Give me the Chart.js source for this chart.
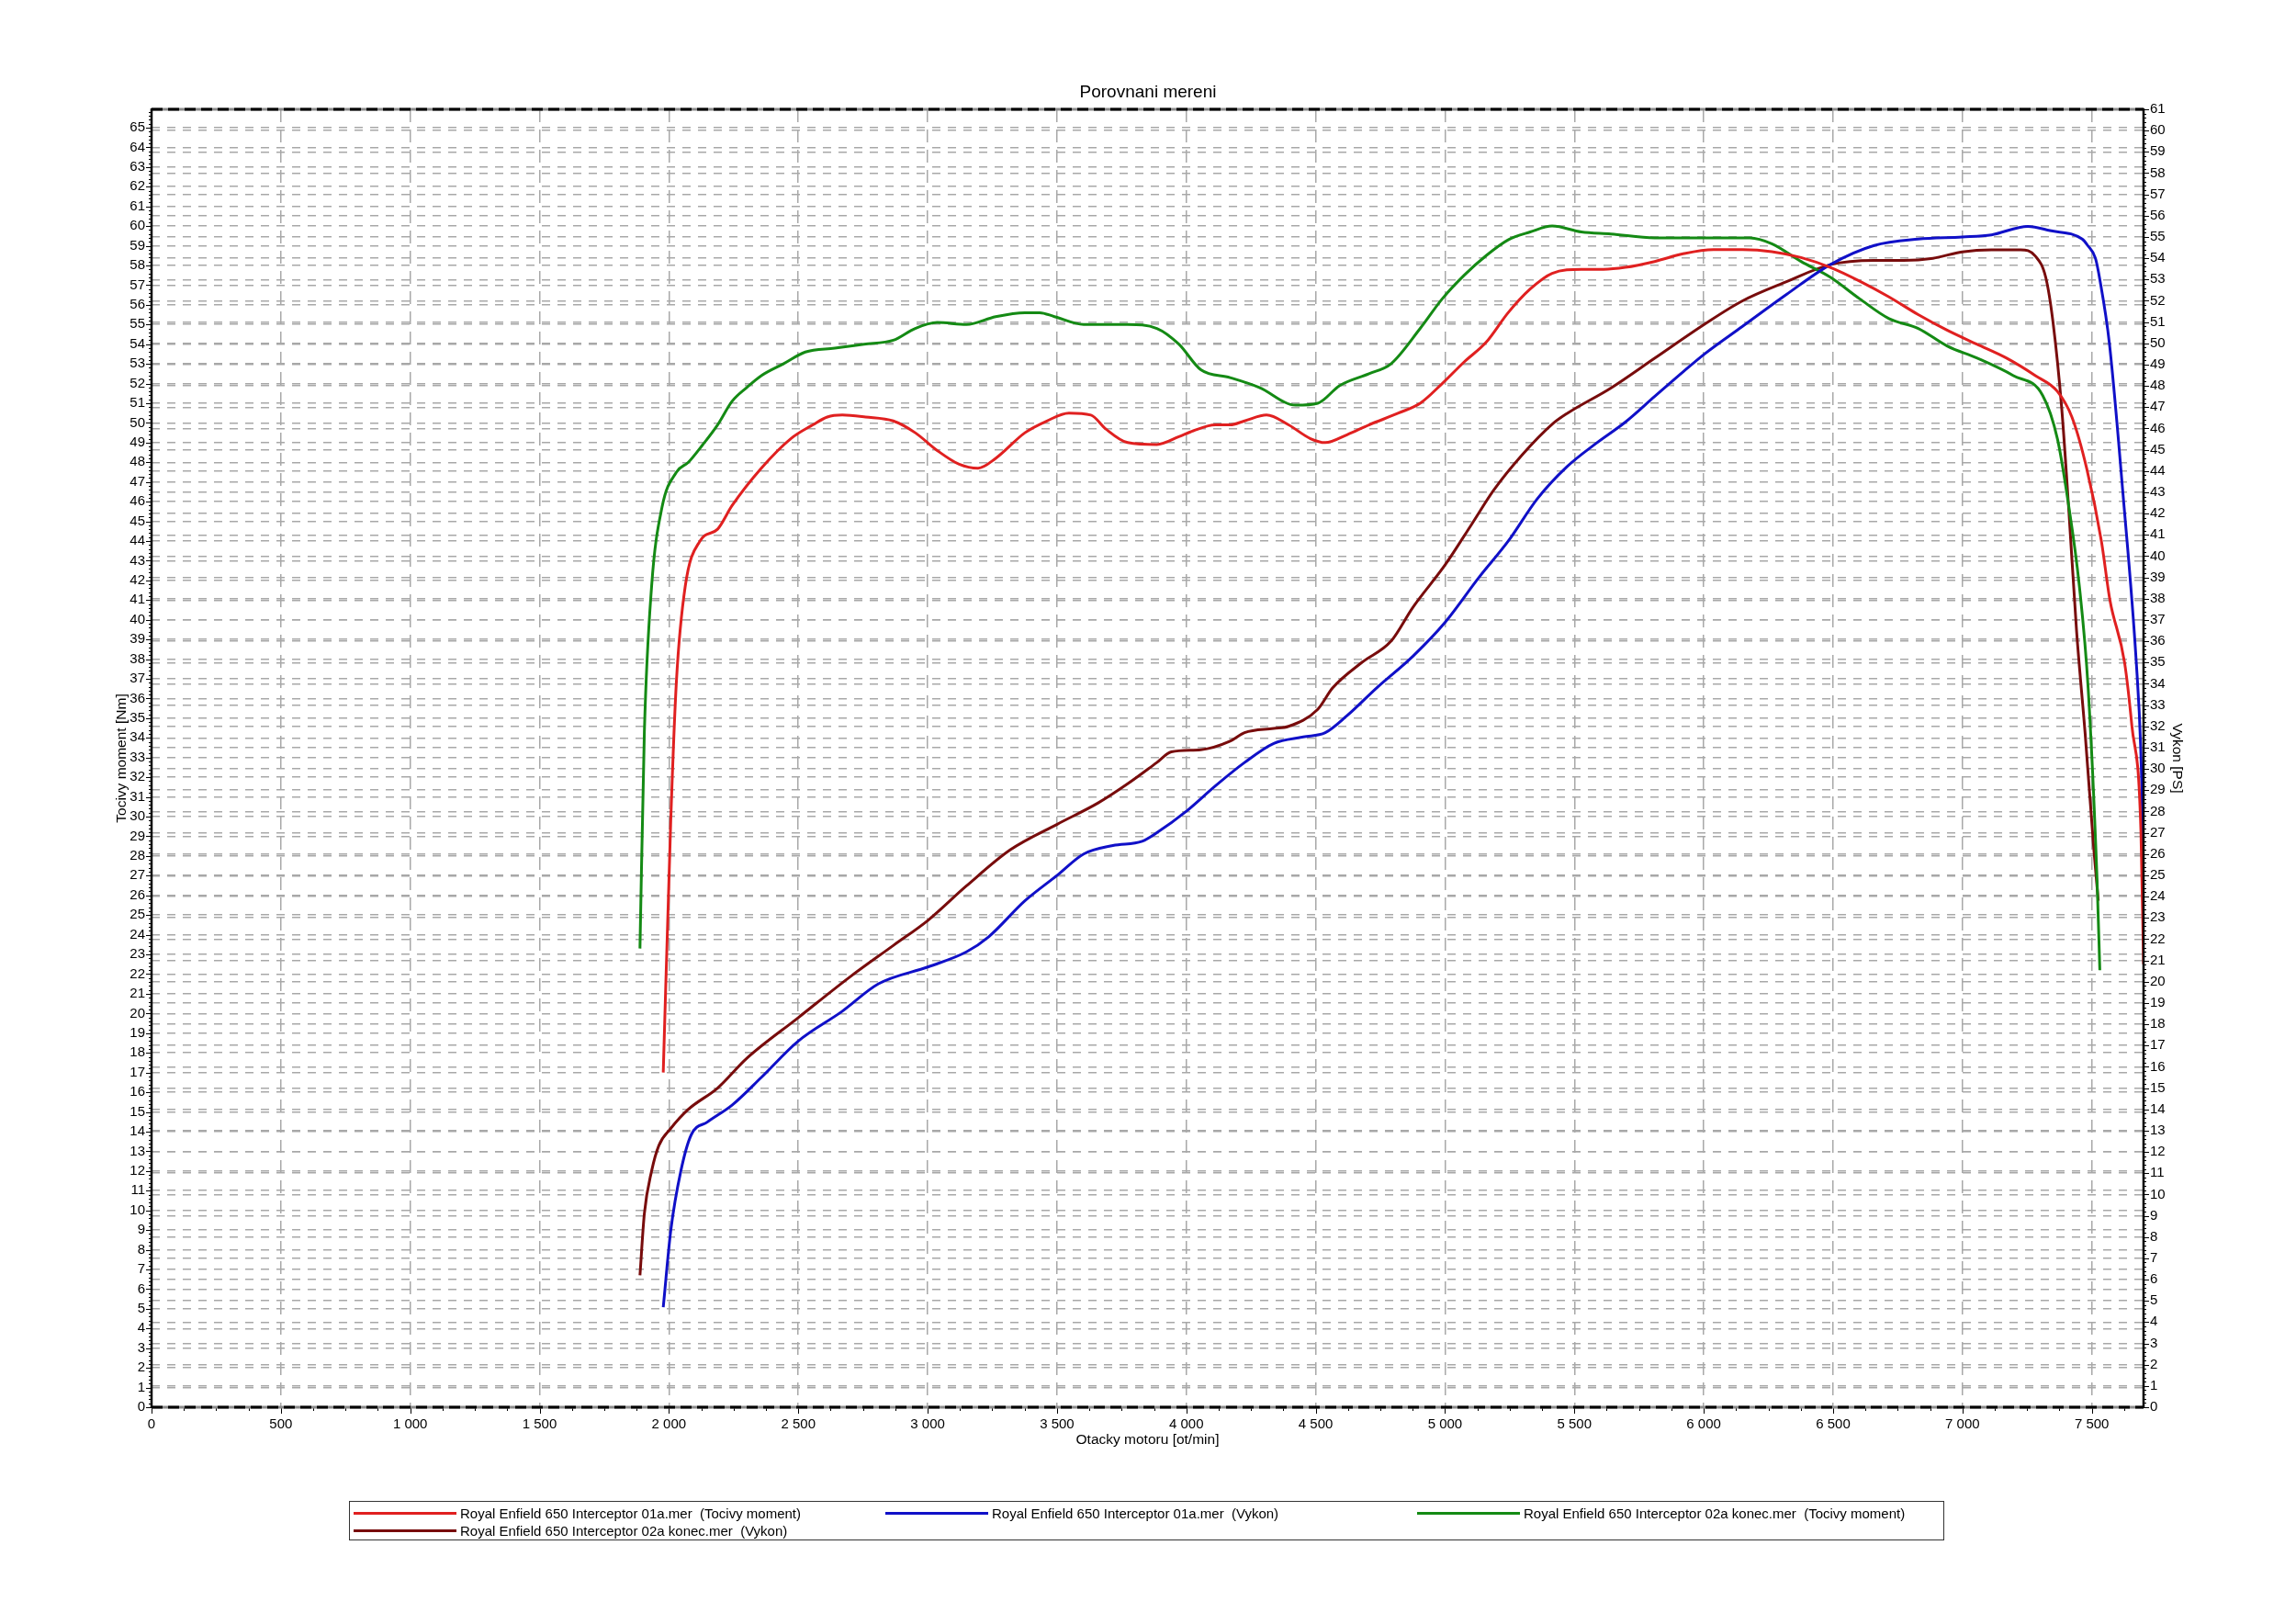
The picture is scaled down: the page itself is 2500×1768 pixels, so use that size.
<!DOCTYPE html>
<html>
<head>
<meta charset="utf-8">
<title>Porovnani mereni</title>
<script src="https://cdn.jsdelivr.net/npm/chart.js@4"></script>
<style>
  body { margin: 0; background: #fff; }
  #wrap { position: relative; width: 2500px; height: 1768px; }
  #legend {
    position: absolute; left: 380px; top: 1634px; width: 1737px; height: 43px;
    border: 1.5px solid #333; box-sizing: border-box; padding: 3px 0 0 4px;
    font: 15px "Liberation Sans", Arial, sans-serif; color: #000;
    display: grid; grid-template-columns: 579px 579px 570px; grid-auto-rows: 19px;
  }
  .item { display: flex; align-items: center; white-space: pre; }
  .item .line { width: 112px; height: 3px; margin-right: 4px; }
</style>
</head>
<body>
<div id="wrap">
  <canvas id="myChart"></canvas>
  <div id="legend"></div>
</div>
<script>
// axis ranges / labels
const chartTitle = "Porovnani mereni";
const xTitle = "Otacky motoru [ot/min]";
const yLeftTitle = "Tocivy moment [Nm]";
const yRightTitle = "Vykon [PS]";
const xMax = 7700, xStep = 500;
const yLeftMax = 65.93, yRightMax = 61;

// Royal Enfield 650 Interceptor 01a.mer (Tocivy moment) [rpm, Nm]
const rpmTorque01 = [1978, 2007, 2029, 2063, 2120, 2188, 2244, 2357, 2471, 2556, 2612, 2670, 2760, 2867, 2952, 3037, 3122, 3195, 3263, 3376, 3461, 3546, 3631, 3688, 3773, 3886, 3971, 4027, 4112, 4169, 4225, 4310, 4395, 4480, 4537, 4621, 4706, 4820, 4904, 4989, 5074, 5159, 5244, 5329, 5414, 5527, 5612, 5697, 5810, 5924, 6037, 6150, 6263, 6376, 6489, 6603, 6716, 6829, 6942, 7055, 7169, 7282, 7367, 7423, 7480, 7537, 7570, 7627, 7655, 7690, 7700];
const torque01 = [17.0, 29.8, 36.9, 41.7, 44.0, 44.6, 45.8, 47.7, 49.2, 49.9, 50.3, 50.4, 50.3, 50.1, 49.5, 48.6, 47.9, 47.7, 48.2, 49.5, 50.1, 50.5, 50.4, 49.7, 49.0, 48.9, 49.3, 49.6, 49.9, 49.9, 50.1, 50.4, 49.9, 49.2, 49.0, 49.4, 49.9, 50.5, 51.0, 52.0, 53.1, 54.1, 55.6, 56.8, 57.6, 57.8, 57.8, 57.9, 58.2, 58.6, 58.8, 58.8, 58.7, 58.4, 57.9, 57.2, 56.4, 55.5, 54.7, 54.0, 53.3, 52.4, 51.6, 50.3, 47.7, 44.0, 41.0, 37.8, 34.6, 29.2, 22.5];

// Royal Enfield 650 Interceptor 01a.mer (Vykon) [rpm, PS]
const rpmPower01 = [1978, 2007, 2046, 2086, 2148, 2244, 2357, 2499, 2669, 2810, 3003, 3150, 3235, 3376, 3501, 3603, 3716, 3829, 3886, 3999, 4112, 4225, 4338, 4452, 4537, 4621, 4735, 4876, 5001, 5131, 5244, 5357, 5471, 5584, 5697, 5810, 5924, 6003, 6150, 6320, 6489, 6659, 6829, 6999, 7112, 7253, 7338, 7463, 7484, 7514, 7531, 7568, 7620, 7672, 7689, 7697, 7700];
const power01 = [4.7, 8.3, 11.1, 12.8, 13.4, 14.2, 15.5, 17.2, 18.6, 19.9, 20.7, 21.4, 22.1, 23.8, 25.0, 26.0, 26.4, 26.6, 27.0, 28.0, 29.2, 30.3, 31.2, 31.5, 31.7, 32.5, 33.8, 35.3, 36.9, 39.0, 40.7, 42.7, 44.2, 45.3, 46.3, 47.5, 48.7, 49.5, 50.8, 52.3, 53.7, 54.6, 54.9, 55.0, 55.1, 55.5, 55.3, 54.9, 54.6, 54.0, 53.0, 50.0, 43.0, 35.0, 31.0, 27.0, 24.0];

// Royal Enfield 650 Interceptor 02a konec.mer (Tocivy moment) [rpm, Nm]
const rpmTorque02 = [1888, 1905, 1933, 1973, 2029, 2075, 2131, 2188, 2244, 2301, 2357, 2442, 2527, 2641, 2754, 2867, 2952, 3037, 3150, 3263, 3376, 3433, 3490, 3603, 3773, 3886, 3971, 4056, 4169, 4282, 4423, 4508, 4593, 4706, 4791, 4904, 4989, 5074, 5159, 5244, 5329, 5414, 5527, 5641, 5810, 5924, 6037, 6178, 6263, 6376, 6489, 6603, 6716, 6829, 6942, 7055, 7197, 7310, 7367, 7406, 7452, 7486, 7520, 7531];
const torque02 = [23.3, 34.3, 41.7, 45.7, 47.5, 48.0, 48.9, 49.9, 51.1, 51.8, 52.4, 53.0, 53.6, 53.8, 54.0, 54.2, 54.8, 55.1, 55.0, 55.4, 55.6, 55.6, 55.4, 55.0, 55.0, 54.8, 54.0, 52.7, 52.3, 51.8, 50.9, 51.0, 51.9, 52.5, 53.0, 54.8, 56.3, 57.5, 58.5, 59.3, 59.7, 60.0, 59.7, 59.6, 59.4, 59.4, 59.4, 59.4, 59.1, 58.2, 57.4, 56.3, 55.3, 54.8, 53.9, 53.3, 52.4, 51.4, 49.2, 46.2, 41.7, 36.5, 26.9, 22.2];

// Royal Enfield 650 Interceptor 02a konec.mer (Vykon) [rpm, PS]
const rpmPower02 = [1888, 1905, 1933, 1961, 2007, 2075, 2188, 2301, 2499, 2697, 2867, 3003, 3150, 3320, 3501, 3659, 3773, 3886, 3942, 4056, 4169, 4225, 4338, 4395, 4508, 4565, 4678, 4791, 4876, 5001, 5103, 5188, 5301, 5414, 5471, 5641, 5810, 6003, 6150, 6320, 6489, 6659, 6772, 6886, 6999, 7112, 7225, 7282, 7322, 7350, 7384, 7412, 7441, 7474, 7508, 7525];
const power02 = [6.2, 9.1, 11.1, 12.3, 13.1, 14.0, 15.0, 16.4, 18.3, 20.2, 21.7, 22.9, 24.5, 26.2, 27.4, 28.4, 29.3, 30.3, 30.8, 30.9, 31.3, 31.7, 31.9, 32.0, 32.8, 33.8, 35.0, 36.0, 37.6, 39.6, 41.5, 43.1, 44.8, 46.2, 46.7, 47.9, 49.3, 50.9, 52.0, 52.9, 53.7, 53.9, 53.9, 54.0, 54.3, 54.4, 54.4, 54.1, 53.1, 51.0, 46.9, 42.0, 36.5, 31.7, 26.2, 23.8];

function pts(xs, ys) {
  return xs.map((x, i) => ({ x: x, y: ys[i] }));
}

function spaced(v) {
  return String(v).replace(/\B(?=(\d{3})+(?!\d))/g, " ");
}

// fixed tick list: 0, step, 2*step ... up to max
function fixedTicks(step, max) {
  return (scale) => {
    const t = [];
    for (let v = 0; v <= max + 1e-6; v += step) t.push({ value: v });
    scale.ticks = t;
  };
}

Chart.defaults.font.family = '"Liberation Sans", Arial, sans-serif';
Chart.defaults.color = "#000";

// frame of the plot and small tick marks on the axes
const frameAndTicks = {
  id: "frameAndTicks",
  afterDatasetsDraw(chart) {
    const { ctx, chartArea: a, scales } = chart;
    ctx.save();
    ctx.strokeStyle = "#000";
    ctx.lineWidth = 1;
    ctx.beginPath();
    for (let i = 0; i * 0.2 <= yLeftMax; i++) {
      const y = Math.round(scales.y.getPixelForValue(i * 0.2)) + 0.5;
      const len = i % 5 === 0 ? 6 : 3;
      ctx.moveTo(a.left - len, y);
      ctx.lineTo(a.left, y);
    }
    for (let i = 0; i * 0.2 <= yRightMax + 0.001; i++) {
      const y = Math.round(scales.y1.getPixelForValue(i * 0.2)) + 0.5;
      const len = i % 5 === 0 ? 6 : 3;
      ctx.moveTo(a.right, y);
      ctx.lineTo(a.right + len, y);
    }
    for (let i = 0; i * 125 <= xMax; i++) {
      const x = Math.round(scales.x.getPixelForValue(i * 125)) + 0.5;
      const len = i % 4 === 0 ? 7 : 4;
      ctx.moveTo(x, a.bottom);
      ctx.lineTo(x, a.bottom + len);
    }
    ctx.stroke();

    // top and bottom: grey line with black dashes
    ctx.lineWidth = 3;
    ctx.strokeStyle = "#8a8a8a";
    ctx.beginPath();
    ctx.moveTo(a.left, a.top); ctx.lineTo(a.right, a.top);
    ctx.moveTo(a.left, a.bottom); ctx.lineTo(a.right, a.bottom);
    ctx.stroke();
    ctx.strokeStyle = "#000";
    ctx.setLineDash([12, 6]);
    ctx.beginPath();
    ctx.moveTo(a.left, a.top); ctx.lineTo(a.right, a.top);
    ctx.moveTo(a.left, a.bottom); ctx.lineTo(a.right, a.bottom);
    ctx.stroke();
    ctx.setLineDash([]);
    ctx.lineWidth = 2.5;
    ctx.beginPath();
    ctx.moveTo(a.left, a.top - 1); ctx.lineTo(a.left, a.bottom + 1);
    ctx.moveTo(a.right, a.top - 1); ctx.lineTo(a.right, a.bottom + 1);
    ctx.stroke();
    ctx.restore();
  }
};

const gridStyle = { color: "#a8a8a8", lineWidth: 1.5, drawTicks: false };

const ctx = document.getElementById("myChart").getContext("2d");
const myChart = new Chart(ctx, {
  type: "line",
  data: {
    datasets: [
      {
        label: "Royal Enfield 650 Interceptor 01a.mer  (Tocivy moment)",
        data: pts(rpmTorque01, torque01),
        borderColor: "#e02020",
        yAxisID: "y",
      },
      {
        label: "Royal Enfield 650 Interceptor 01a.mer  (Vykon)",
        data: pts(rpmPower01, power01),
        borderColor: "#1010c8",
        yAxisID: "y1",
      },
      {
        label: "Royal Enfield 650 Interceptor 02a konec.mer  (Tocivy moment)",
        data: pts(rpmTorque02, torque02),
        borderColor: "#148a14",
        yAxisID: "y",
      },
      {
        label: "Royal Enfield 650 Interceptor 02a konec.mer  (Vykon)",
        data: pts(rpmPower02, power02),
        borderColor: "#780c0c",
        yAxisID: "y1",
      },
    ],
  },
  options: {
    responsive: true,
    maintainAspectRatio: false,
    animation: false,
    devicePixelRatio: 1,
    layout: { padding: 0 },
    elements: {
      point: { radius: 0 },
      line: { borderWidth: 3, cubicInterpolationMode: "monotone", fill: false },
    },
    plugins: {
      legend: { display: false },
      tooltip: { enabled: false },
      title: {
        display: true,
        text: chartTitle,
        font: { size: 19, weight: "normal" },
        color: "#000",
        padding: { top: 89.6, bottom: 6.6 },
      },
    },
    scales: {
      x: {
        type: "linear",
        min: 0,
        max: xMax,
        grid: gridStyle,
        border: { display: false, dash: [14, 8] },
        afterBuildTicks: fixedTicks(xStep, 7500),
        ticks: { autoSkip: false, padding: 10, maxRotation: 0, font: { size: 15 }, callback: (v) => spaced(v) },
        title: { display: true, text: xTitle, font: { size: 15.5 }, padding: { top: 0, bottom: 190.7 } },
        afterFit: (s) => { s.height = 236; },
      },
      y: {
        position: "left",
        min: 0,
        max: yLeftMax,
        grid: gridStyle,
        border: { display: false, dash: [9, 8] },
        afterBuildTicks: fixedTicks(1, 65),
        ticks: { autoSkip: false, padding: 7, font: { size: 15 } },
        title: { display: true, text: yLeftTitle, font: { size: 15.5 }, padding: { top: 123, bottom: 0 } },
        afterFit: (s) => { s.width = 165; },
      },
      y1: {
        position: "right",
        min: 0,
        max: yRightMax,
        grid: gridStyle,
        border: { display: false, dash: [9, 8] },
        afterBuildTicks: fixedTicks(1, 61),
        ticks: { autoSkip: false, padding: 7, font: { size: 15 } },
        title: { display: true, text: yRightTitle, font: { size: 15.5 }, padding: { top: 120.7, bottom: 0 } },
        afterFit: (s) => { s.width = 166; },
      },
    },
  },
  plugins: [frameAndTicks],
});

// legend box under the chart, built from the datasets
const legend = document.getElementById("legend");
myChart.data.datasets.forEach((ds) => {
  const item = document.createElement("div");
  item.className = "item";
  const line = document.createElement("span");
  line.className = "line";
  line.style.background = ds.borderColor;
  const text = document.createElement("span");
  text.textContent = ds.label;
  item.appendChild(line);
  item.appendChild(text);
  legend.appendChild(item);
});
</script>
</body>
</html>
